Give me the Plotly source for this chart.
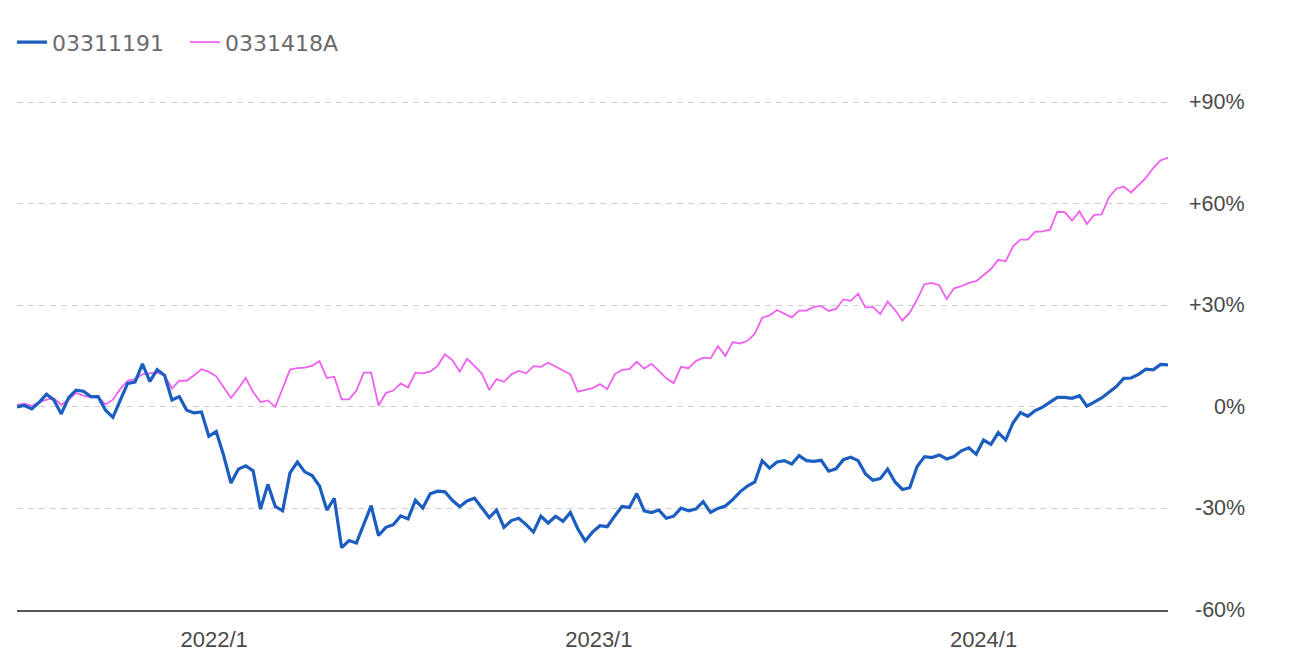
import pandas as pd
import plotly.graph_objects as go

# weekly observation dates (157 weeks)
dates = pd.date_range("2021-06-28", periods=157, freq="7D")

fund_a_name = "03311191"
fund_b_name = "0331418A"

fund_a = [
    0.0, 0.4, -0.6, 1.3, 3.7, 2.0, -2.1, 2.7, 4.9, 4.6,
    3.0, 3.0, -1.0, -3.1, 2.0, 6.9, 7.3, 12.7, 7.5, 11.0,
    9.3, 2.0, 3.0, -1.0, -1.8, -1.5, -8.7, -7.3, -14.3, -22.5,
    -18.4, -17.4, -18.9, -30.2, -22.9, -29.4, -30.7, -19.5, -16.3, -19.2,
    -20.3, -23.4, -30.5, -27.0, -41.6, -39.5, -40.2, -34.6, -29.2, -38.0,
    -35.6, -34.8, -32.2, -33.1, -27.6, -29.9, -25.7, -24.9, -25.1, -27.6,
    -29.5, -27.8, -27.0, -29.8, -32.7, -30.5, -35.6, -33.6, -32.9, -34.8,
    -37.0, -32.3, -34.3, -32.3, -33.8, -31.2, -36.0, -39.6, -37.0, -35.1,
    -35.4, -32.3, -29.4, -29.7, -25.6, -30.7, -31.2, -30.5, -32.9, -32.3,
    -29.9, -30.7, -30.2, -28.0, -31.2, -30.0, -29.3, -27.4, -25.1, -23.4,
    -22.2, -15.9, -18.1, -16.3, -15.9, -16.9, -14.4, -15.9, -16.1, -15.8,
    -19.0, -18.3, -15.6, -14.9, -15.9, -19.8, -21.7, -21.2, -18.4, -22.2,
    -24.4, -23.9, -17.6, -14.7, -15.0, -14.2, -15.4, -14.7, -13.0, -12.1,
    -14.0, -9.8, -11.1, -7.6, -9.8, -4.7, -1.7, -2.8, -1.1, -0.1,
    1.4, 2.8, 2.8, 2.5, 3.3, 0.2, 1.4, 2.6, 4.3, 6.0,
    8.4, 8.5, 9.6, 11.1, 10.9, 12.5, 12.4,
]

fund_b = [
    0.6, 0.9, 0.3, 1.4, 2.1, 2.5, 0.6, 2.1, 4.1, 3.3,
    2.8, 2.8, 0.7, 2.1, 5.3, 7.7, 8.2, 9.6, 9.9, 10.1,
    9.3, 5.4, 7.7, 7.7, 9.3, 11.1, 10.3, 9.0, 5.8, 2.6,
    5.4, 8.5, 4.4, 1.4, 1.9, 0.0, 5.4, 11.0, 11.4, 11.6,
    12.1, 13.5, 8.5, 8.9, 2.2, 2.2, 4.8, 10.1, 10.1, 0.4,
    4.1, 4.8, 6.9, 5.7, 10.1, 9.9, 10.4, 12.1, 15.5, 13.8,
    10.4, 14.2, 12.1, 9.8, 5.0, 8.2, 7.4, 9.6, 10.6, 9.9,
    12.0, 11.8, 13.0, 11.8, 10.6, 9.6, 4.5, 5.0, 5.5, 6.7,
    5.2, 9.6, 10.9, 11.1, 13.3, 11.3, 12.7, 10.6, 8.4, 7.0,
    11.8, 11.4, 13.5, 14.5, 14.3, 17.9, 15.0, 19.1, 18.7, 19.5,
    21.6, 26.3, 27.0, 28.6, 27.6, 26.4, 28.4, 28.4, 29.5, 29.8,
    28.3, 28.9, 31.7, 31.3, 33.4, 29.3, 29.5, 27.4, 31.1, 28.6,
    25.5, 27.8, 31.7, 36.2, 36.6, 35.9, 31.8, 35.0, 35.6, 36.6,
    37.1, 39.0, 40.7, 43.4, 43.0, 47.4, 49.4, 49.4, 51.7, 51.8,
    52.3, 57.6, 57.5, 55.0, 57.7, 54.0, 56.7, 56.8, 61.9, 64.4,
    65.0, 63.3, 65.5, 67.6, 70.5, 72.8, 73.6,
]

x_tick_vals = ["2022-01-01", "2023-01-01", "2024-01-01"]
x_tick_text = ["2022/1", "2023/1", "2024/1"]
y_tick_vals = [90, 60, 30, 0, -30, -60]
y_tick_text = ["+90%", "+60%", "+30%", "0%", "-30%", "-60%"]

BLUE = "#1b5ec0"
PINK = "#f060f0"

fig = go.Figure()
fig.add_trace(go.Scatter(
    x=dates, y=fund_b, name=fund_b_name, mode="lines",
    line=dict(color=PINK, width=1.8), legendrank=2,
))
fig.add_trace(go.Scatter(
    x=dates, y=fund_a, name=fund_a_name, mode="lines",
    line=dict(color=BLUE, width=3.2), legendrank=1,
))

L, R, T, B = 17, 122, 99, 51
W, H = 1290, 664
plot_w = W - L - R
Y_TOP = 90.9

annotations = []
for v, t in zip(y_tick_vals, y_tick_text):
    annotations.append(dict(
        x=(1247 - L) / plot_w, xref="paper", y=v, yref="y",
        text=t, showarrow=False, xanchor="right", yanchor="middle",
        font=dict(family="Liberation Sans, Arial, sans-serif", size=21.5, color="#4a4a4a"),
    ))

fig.update_layout(
    width=W, height=H,
    margin=dict(l=L, r=R, t=T, b=B),
    paper_bgcolor="white", plot_bgcolor="white",
    showlegend=True,
    legend=dict(
        orientation="h", x=(12 - L) / plot_w, xanchor="left",
        y=(H - B - 42) / (H - T - B), yanchor="middle",
        font=dict(family="DejaVu Sans, sans-serif", size=22, color="#6a6a6a"),
        bgcolor="rgba(0,0,0,0)", itemwidth=30,
        entrywidth=128, entrywidthmode="pixels",
    ),
    annotations=annotations,
    hovermode=False,
)
fig.update_xaxes(
    range=[dates[0], dates[-1]],
    showgrid=False, zeroline=False,
    showline=True, linecolor="#555555", linewidth=1.5,
    tickvals=x_tick_vals, ticktext=x_tick_text, ticks="",
    ticklabelstandoff=9,
    tickfont=dict(family="Liberation Sans, Arial, sans-serif", size=22, color="#4a4a4a"),
)
fig.update_yaxes(
    range=[-60, Y_TOP], side="right",
    tickvals=y_tick_vals, showticklabels=False,
    showgrid=True, gridcolor="#cfcfcf", gridwidth=1.3, griddash="6px,5px",
    zeroline=False, showline=False,
)

fig.write_html("out.html")
